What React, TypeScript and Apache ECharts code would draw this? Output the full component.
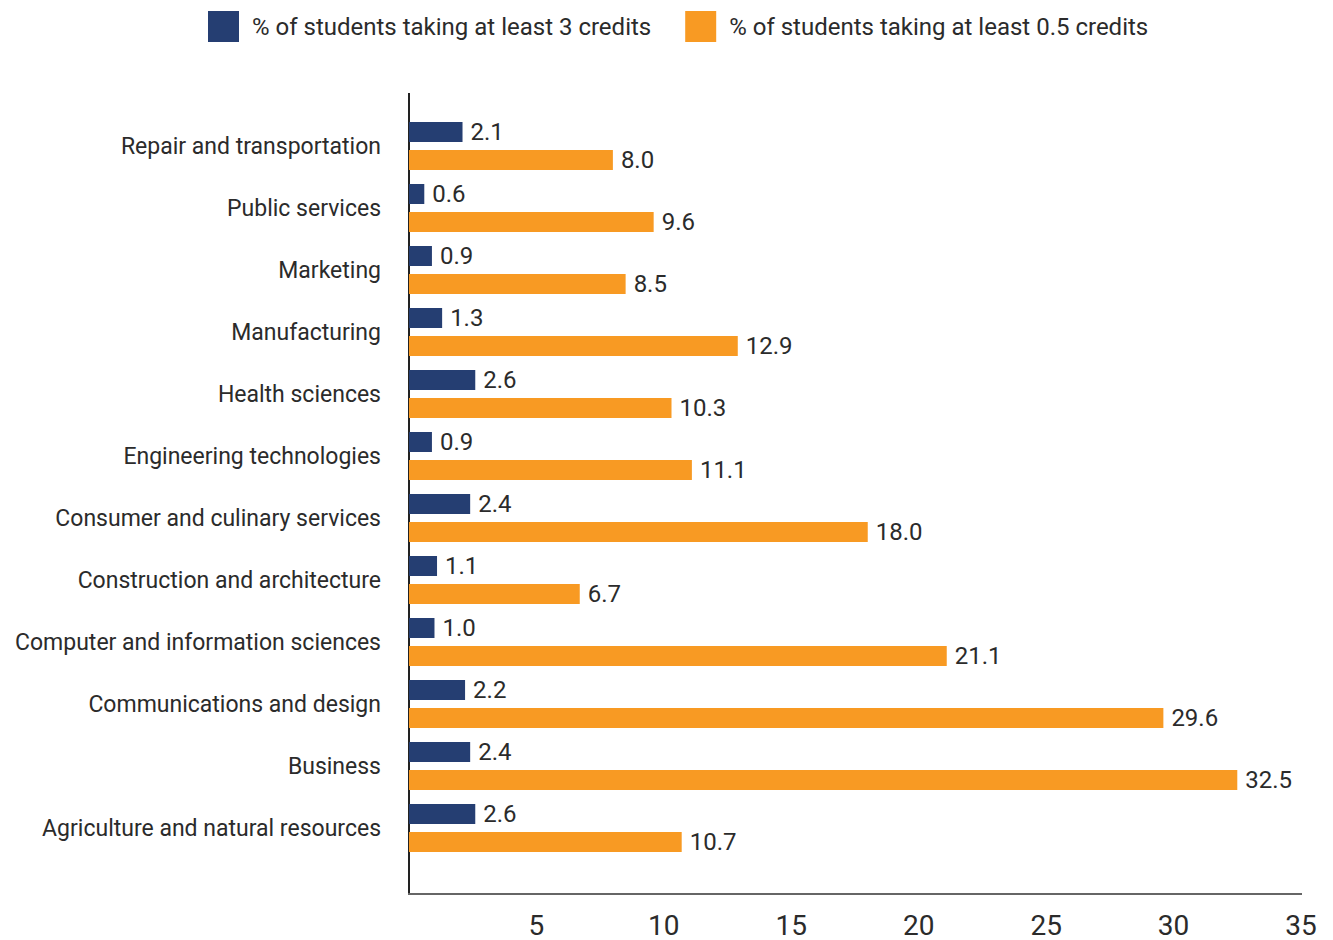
import React, { useEffect, useRef } from "react";
import * as echarts from "echarts";

const categories = [
  "Agriculture and natural resources",
  "Business",
  "Communications and design",
  "Computer and information sciences",
  "Construction and architecture",
  "Consumer and culinary services",
  "Engineering technologies",
  "Health sciences",
  "Manufacturing",
  "Marketing",
  "Public services",
  "Repair and transportation",
];
const atLeast3 = [2.6, 2.4, 2.2, 1.0, 1.1, 2.4, 0.9, 2.6, 1.3, 0.9, 0.6, 2.1];
const atLeastHalf = [10.7, 32.5, 29.6, 21.1, 6.7, 18.0, 11.1, 10.3, 12.9, 8.5, 9.6, 8.0];
const seriesNames = [
  "% of students taking at least 3 credits",
  "% of students taking at least 0.5 credits",
];
const xTicks = [0, 5, 10, 15, 20, 25, 30, 35];

const FONT = "'Roboto', sans-serif";
const NAVY = "#253E72";
const ORANGE = "#F89A23";
const TEXT = "#2b2b2b";

export default function App() {
  const ref = useRef<HTMLDivElement>(null);
  useEffect(() => {
    if (!ref.current) return;
    const chart = echarts.init(ref.current, null, { renderer: "svg" });
    const labelCfg = {
      show: true,
      position: "right" as const,
      distance: 8,
      color: TEXT,
      fontSize: 24,
      fontFamily: FONT,
      formatter: (p: any) => Number(p.value).toFixed(1),
    };
    chart.setOption({
      animation: false,
      textStyle: { fontFamily: FONT },
      legend: {
        data: seriesNames,
        left: 203,
        top: 6,
        itemWidth: 31,
        itemHeight: 31,
        itemGap: 34,
        icon: "rect",
        textStyle: { fontSize: 24, color: TEXT, fontFamily: FONT, padding: [0, 0, 0, 8] },
      },
      grid: { left: 409, right: 32, top: 115, bottom: 81, containLabel: false, outerBoundsMode: "none" },
      xAxis: {
        type: "value",
        min: xTicks[0],
        max: xTicks[xTicks.length - 1],
        interval: 5,
        axisLine: { show: false },
        axisTick: { show: false },
        splitLine: { show: false },
        axisLabel: {
          margin: 52,
          fontSize: 28,
          color: TEXT,
          fontFamily: FONT,
          formatter: (v: number) => (v === 0 ? "" : String(v)),
        },
      },
      yAxis: {
        type: "category",
        data: categories,
        axisLine: { show: false },
        axisTick: { show: false },
        axisLabel: { margin: 28, fontSize: 23, color: TEXT, fontFamily: FONT },
      },
      graphic: [
        { type: "line", shape: { x1: 409, y1: 93, x2: 409, y2: 894 }, style: { stroke: "#222", lineWidth: 2 } },
        { type: "line", shape: { x1: 408, y1: 894, x2: 1302, y2: 894 }, style: { stroke: "#666", lineWidth: 2 } },
      ],
      series: [
        {
          name: seriesNames[0],
          type: "bar",
          data: atLeast3,
          barWidth: 20,
          barGap: "40%",
          itemStyle: { color: NAVY },
          label: labelCfg,
        },
        {
          name: seriesNames[1],
          type: "bar",
          data: atLeastHalf,
          barWidth: 20,
          barGap: "40%",
          itemStyle: { color: ORANGE },
          label: labelCfg,
        },
      ],
    });
    return () => chart.dispose();
  }, []);
  return (
    <div
      ref={ref}
      style={{ position: "fixed", left: 0, top: 0, width: 1333, height: 940, background: "#fff" }}
    />
  );
}
